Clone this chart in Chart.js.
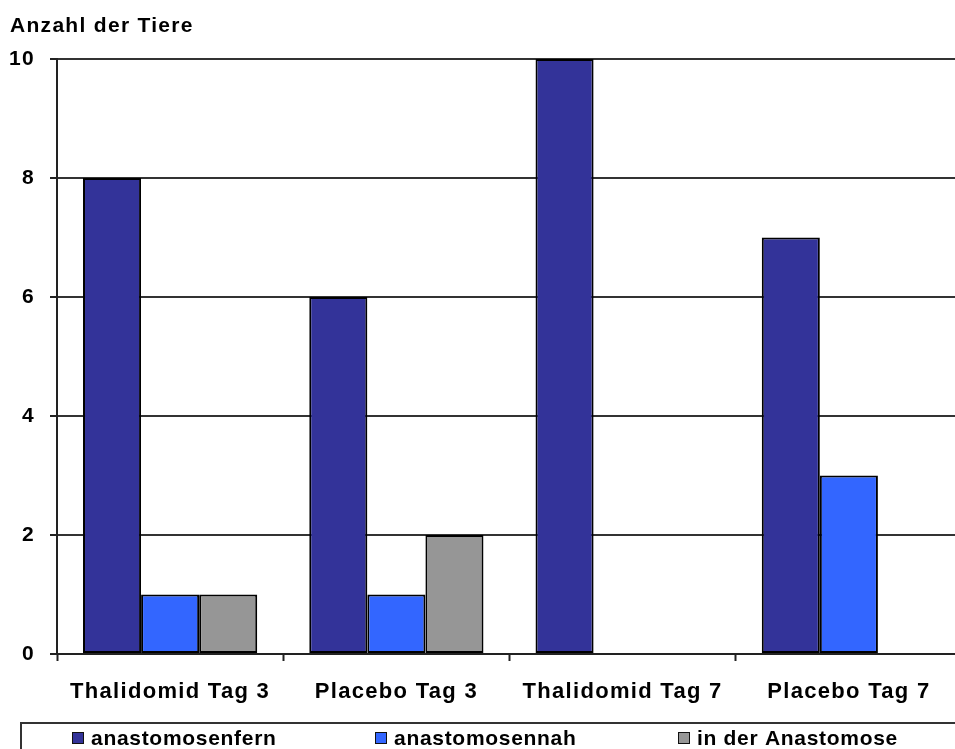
<!DOCTYPE html>
<html>
<head>
<meta charset="utf-8">
<script src="https://cdn.jsdelivr.net/npm/chart.js@4/dist/chart.umd.min.js"></script>
<style>
  html, body { margin: 0; padding: 0; background: #fff; overflow: hidden; }
  #wrap { width: 975px; height: 749px; }
</style>
</head>
<body>
<div id="wrap"><canvas id="c" width="975" height="749"></canvas></div>
<script>
// Number of animals per group and location
const categories = ['Thalidomid Tag 3', 'Placebo Tag 3', 'Thalidomid Tag 7', 'Placebo Tag 7'];
const seriesNames = ['anastomosenfern', 'anastomosennah', 'in der Anastomose'];
const anastomosenfern = [8, 6, 10, 7];
const anastomosennah = [1, 1, 0, 3];
const inDerAnastomose = [1, 2, 0, 0];
const yTicks = [0, 2, 4, 6, 8, 10];
const seriesColors = ['#333399', '#3366FF', '#969696'];
const yTitle = 'Anzahl der Tiere';

const FONT = '"Liberation Sans", Arial, sans-serif';

const datasets = [anastomosenfern, anastomosennah, inDerAnastomose].map((vals, i) => ({
  label: seriesNames[i],
  data: vals,
  backgroundColor: seriesColors[i],
  borderColor: '#000',
  borderWidth: 2,
  borderSkipped: false,
  categoryPercentage: 0.77,
  barPercentage: 1.0
}));

// Slightly spaced lettering for all chart text
const spacing = {
  id: 'spacing',
  beforeDraw(chart) { chart.ctx.letterSpacing = '1.3px'; }
};

// Axis title above the value axis, boxed legend below the categories
const decorations = {
  id: 'decorations',
  afterDraw(chart) {
    const ctx = chart.ctx;
    ctx.save();
    ctx.letterSpacing = '1.3px';
    ctx.fillStyle = '#000';
    ctx.font = 'bold 21px ' + FONT;
    ctx.textBaseline = 'alphabetic';
    ctx.textAlign = 'left';
    ctx.fillText(yTitle, 10, 32);

    // legend frame
    ctx.strokeStyle = '#333';
    ctx.lineWidth = 2;
    ctx.strokeRect(21, 723, 1000, 60);

    ctx.letterSpacing = '0.7px';
    ctx.font = 'bold 21px ' + FONT;
    chart.data.datasets.forEach((ds, i) => {
      const x = 72 + i * 303;
      ctx.fillStyle = ds.backgroundColor;
      ctx.fillRect(x, 732, 11, 11);
      ctx.strokeStyle = '#111';
      ctx.lineWidth = 1;
      ctx.strokeRect(x + 0.5, 732.5, 11, 11);
      ctx.fillStyle = '#000';
      ctx.fillText(ds.label, x + 19, 745);
    });
    ctx.restore();
  }
};

new Chart(document.getElementById('c'), {
  type: 'bar',
  data: { labels: categories, datasets },
  options: {
    responsive: false,
    animation: false,
    devicePixelRatio: 1,
    layout: { padding: { top: 59, left: 0, right: 13, bottom: 0 } },
    plugins: { legend: { display: false }, tooltip: { enabled: false } },
    scales: {
      x: {
        offset: true,
        grid: {
          offset: true,
          drawOnChartArea: false,
          drawTicks: true,
          tickLength: 7,
          tickWidth: 2,
          tickColor: '#222'
        },
        border: { display: true, color: '#222', width: 2 },
        ticks: {
          color: '#000',
          font: { family: FONT, size: 22, weight: 'bold' },
          padding: 18,
          maxRotation: 0,
          autoSkip: false
        },
        afterFit(s) {
          s.height = 95;
          s.paddingLeft = 0; s.paddingRight = 0;
        }
      },
      y: {
        min: 0,
        max: 10,
        afterBuildTicks(s) { s.ticks = yTicks.map(v => ({ value: v })); },
        grid: {
          color: '#333',
          lineWidth: 2,
          drawTicks: true,
          tickLength: 7,
          tickColor: '#222'
        },
        border: { display: true, color: '#222', width: 2 },
        ticks: {
          color: '#000',
          font: { family: FONT, size: 21, weight: 'bold' },
          padding: 15
        },
        afterFit(s) {
          s.width = 57;
          s.paddingTop = 0; s.paddingBottom = 0;
        }
      }
    }
  },
  plugins: [spacing, decorations]
});
</script>
</body>
</html>
